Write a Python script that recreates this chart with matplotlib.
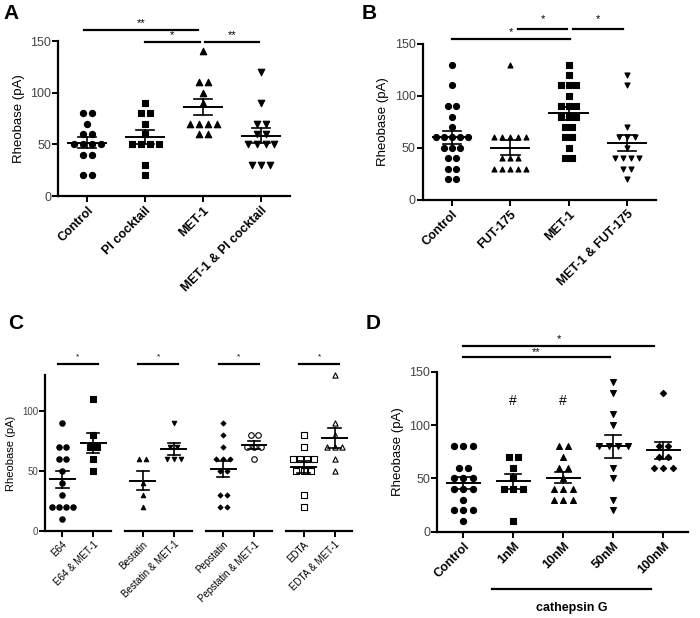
import matplotlib
matplotlib.use("Agg")
import matplotlib.pyplot as plt
import numpy as np

plt.rcParams['font.family'] = ['Liberation Sans', 'DejaVu Sans']

# ---- panel A ----
a_labels = ["Control", "PI cocktail", "MET-1", "MET-1 & PI cocktail"]
a_control = [80, 80, 70, 60, 60, 50, 50, 50, 50, 40, 40, 20, 20]
a_pi = [90, 80, 80, 70, 60, 50, 50, 50, 50, 30, 20]
a_met = [140, 110, 110, 100, 90, 70, 70, 70, 70, 60, 60]
a_met_pi = [120, 90, 70, 70, 60, 60, 50, 50, 50, 50, 30, 30, 30]
a_sig = [(0, 2, "**"), (1, 2, "*"), (2, 3, "**")]

# ---- panel B ----
b_labels = ["Control", "FUT-175", "MET-1", "MET-1 & FUT-175"]
b_control = [130, 110, 90, 90, 80, 70, 60, 60, 60, 60, 60, 50, 50, 50,
             40, 40, 30, 30, 20, 20]
b_fut = [130, 60, 60, 60, 60, 60, 40, 40, 40, 30, 30, 30, 30, 30]
b_met = [130, 120, 110, 110, 110, 100, 90, 90, 90, 80, 80, 80,
         70, 70, 60, 60, 50, 40, 40]
b_met_fut = [120, 110, 70, 60, 60, 60, 50, 40, 40, 40, 40, 30, 30, 20]
b_sig = [(0, 2, "*"), (1, 2, "*"), (2, 3, "*")]

# ---- panel C ----
c_labels = ["E64", "E64 & MET-1", "Bestatin", "Bestatin & MET-1",
            "Pepstatin", "Pepstatin & MET-1", "EDTA", "EDTA & MET-1"]
c_e64 = [90, 70, 70, 60, 60, 50, 40, 30, 20, 20, 20, 20, 10]
c_e64_met = [110, 80, 70, 70, 60, 50]
c_best = [60, 60, 40, 30, 20]
c_best_met = [90, 70, 70, 60, 60, 60]
c_pep = [90, 80, 70, 60, 60, 60, 50, 50, 30, 30, 20, 20]
c_pep_met = [80, 80, 70, 70, 70, 60]
c_edta = [80, 70, 60, 60, 60, 60, 50, 50, 50, 30, 20]
c_edta_met = [130, 90, 80, 70, 70, 70, 60, 50]

# ---- panel D ----
d_labels = ["Control", "1nM", "10nM", "50nM", "100nM"]
d_control = [80, 80, 80, 60, 60, 50, 50, 50, 40, 40, 40, 30, 20, 20, 20, 10]
d_1nm = [70, 70, 60, 50, 40, 40, 40, 10]
d_10nm = [80, 80, 70, 60, 60, 50, 40, 40, 40, 30, 30, 30]
d_50nm = [140, 130, 110, 100, 80, 80, 80, 80, 60, 50, 30, 20]
d_100nm = [130, 80, 80, 70, 70, 60, 60, 60]
d_sig = [(0, 4, "*"), (0, 3, "**")]
d_hash = [1, 2]


def swarm_x(center, vals, dx):
    vals = np.asarray(vals)
    xs = np.empty(len(vals))
    for v in np.unique(vals):
        idx = np.where(vals == v)[0]
        k = len(idx)
        xs[idx] = center + (np.arange(k) - (k - 1) / 2) * dx
    return xs


def draw_group(ax, x, vals, marker, ms, dx, half_mean, half_sem, filled=True):
    vals = np.asarray(vals, dtype=float)
    xs = swarm_x(x, vals, dx)
    face = 'black' if filled else 'white'
    ax.scatter(xs, vals, marker=marker, s=ms, facecolor=face,
               edgecolor='black', linewidths=0.8, zorder=3, clip_on=False)
    m = vals.mean()
    sem = vals.std(ddof=1) / np.sqrt(len(vals))
    ax.plot([x - half_mean, x + half_mean], [m, m], color='black', lw=1.4, zorder=4)
    ax.plot([x, x], [m - sem, m + sem], color='black', lw=1.2, zorder=4)
    for yy in (m - sem, m + sem):
        ax.plot([x - half_sem, x + half_sem], [yy, yy], color='black', lw=1.2, zorder=4)


def style_axes(ax, ymax, ticksize, ylabsize):
    for s in ['top', 'right']:
        ax.spines[s].set_visible(False)
    for s in ['left', 'bottom']:
        ax.spines[s].set_linewidth(1.6)
    ax.set_ylim(0, ymax)
    ax.tick_params(axis='y', direction='out', length=4, width=1.4,
                   labelsize=ticksize, labelcolor='#444444', pad=1)
    ax.tick_params(axis='x', direction='out', length=4, width=1.4, pad=2)
    ax.set_ylabel("Rheobase (pA)", fontsize=ylabsize)


def sig_bar(ax, x1, x2, y, text, ty, fs=8):
    ax.plot([x1, x2], [y, y], color='black', lw=1.6, clip_on=False)
    ax.text((x1 + x2) / 2, ty, text, ha='center', va='center', fontsize=fs)


fig = plt.figure(figsize=(7, 6.18), dpi=100)

# ---------------- A ----------------
ax = fig.add_axes([0.0829, 0.6828, 0.3314, 0.2508])
style_axes(ax, 150, 9, 9.5)
groups = [a_control, a_pi, a_met, a_met_pi]
markers = ['o', 's', '^', 'v']
sizes = [20, 18, 22, 22]
for i, (g, mk, sz) in enumerate(zip(groups, markers, sizes)):
    draw_group(ax, i, g, mk, sz, 0.155, 0.33, 0.16)
ax.set_xlim(-0.5, 3.5)
ax.set_yticks([0, 50, 100, 150])
ax.set_xticks(range(4))
ax.set_xticklabels(a_labels, rotation=45, ha='right', rotation_mode='anchor',
                   fontsize=9, fontweight='bold')
sig_bar(ax, -0.05, 1.92, 160.7, a_sig[0][2], 167)
sig_bar(ax, 1.0, 1.94, 149.5, a_sig[1][2], 156)
sig_bar(ax, 2.04, 2.97, 149.5, a_sig[2][2], 156)
fig.text(0.005, 0.993, "A", fontsize=15, fontweight='bold', va='top')

# ---------------- B ----------------
ax = fig.add_axes([0.6039, 0.6764, 0.3333, 0.2529])
style_axes(ax, 150, 9, 9.5)
groups = [b_control, b_fut, b_met, b_met_fut]
markers = ['o', '^', 's', 'v']
sizes = [19, 13, 17, 13]
for i, (g, mk, sz) in enumerate(zip(groups, markers, sizes)):
    draw_group(ax, i, g, mk, sz, 0.135, 0.33, 0.16)
ax.set_xlim(-0.5, 3.5)
ax.set_yticks([0, 50, 100, 150])
ax.set_xticks(range(4))
ax.set_xticklabels(b_labels, rotation=45, ha='right', rotation_mode='anchor',
                   fontsize=9, fontweight='bold')
sig_bar(ax, 0.0, 2.02, 154.2, b_sig[0][2], 161)
sig_bar(ax, 1.14, 1.97, 163.8, b_sig[1][2], 173.5)
sig_bar(ax, 2.07, 2.93, 163.8, b_sig[2][2], 173.5)
fig.text(0.517, 0.993, "B", fontsize=15, fontweight='bold', va='top')

# ---------------- C ----------------
ax = fig.add_axes([0.0643, 0.1408, 0.4357, 0.2524])
style_axes(ax, 130, 7, 8)
ax.spines['bottom'].set_visible(False)
groups = [c_e64, c_e64_met, c_best, c_best_met, c_pep, c_pep_met, c_edta, c_edta_met]
markers = ['o', 's', '^', 'v', 'D', 'o', 's', '^']
sizes = [15, 15, 10, 10, 6, 16, 15, 14]
filled = [True, True, True, True, True, False, False, False]
pair_gap = 2.6
xpos = [p * pair_gap + k for p in range(4) for k in range(2)]
for x, g, mk, sz, f in zip(xpos, groups, markers, sizes, filled):
    draw_group(ax, x, g, mk, sz, 0.23, 0.4, 0.2, filled=f)
ax.set_xlim(-0.56, 9.3)
ax.set_yticks([0, 50, 100])
ax.set_xticks(xpos)
ax.set_xticklabels(c_labels, rotation=45, ha='right', rotation_mode='anchor',
                   fontsize=7)
for p in range(4):
    x0 = p * pair_gap
    ax.plot([x0 - 0.56, x0 + 1.58], [0, 0], color='black', lw=1.6, clip_on=False)
    sig_bar(ax, x0 - 0.15, x0 + 1.15, 139, "*", 145.5, fs=6)
fig.text(0.012, 0.492, "C", fontsize=15, fontweight='bold', va='top')

# ---------------- D ----------------
ax = fig.add_axes([0.6247, 0.1396, 0.3586, 0.2589])
style_axes(ax, 150, 9, 9.5)
groups = [d_control, d_1nm, d_10nm, d_50nm, d_100nm]
markers = ['o', 's', '^', 'v', 'D']
sizes = [20, 18, 18, 18, 10]
for i, (g, mk, sz) in enumerate(zip(groups, markers, sizes)):
    draw_group(ax, i, g, mk, sz, 0.19, 0.33, 0.16)
ax.set_xlim(-0.52, 4.5)
ax.set_yticks([0, 50, 100, 150])
ax.set_xticks(range(5))
ax.set_xticklabels(d_labels, rotation=45, ha='right', rotation_mode='anchor',
                   fontsize=9, fontweight='bold')
sig_bar(ax, 0.0, 3.81, 174, d_sig[0][2], 180.5)
sig_bar(ax, 0.0, 2.93, 163.5, d_sig[1][2], 168.5)
for h in d_hash:
    ax.text(h, 122.5, "#", ha='center', va='center', fontsize=10)
ax.plot([0.57, 3.75], [-0.36, -0.36], color='black', lw=1.6, clip_on=False,
        transform=ax.get_xaxis_transform())
ax.text(2.16, -0.477, "cathepsin G", ha='center', va='center', fontsize=9,
        fontweight='bold', transform=ax.get_xaxis_transform())
fig.text(0.523, 0.492, "D", fontsize=15, fontweight='bold', va='top')

fig.savefig("out.png", dpi=100)
